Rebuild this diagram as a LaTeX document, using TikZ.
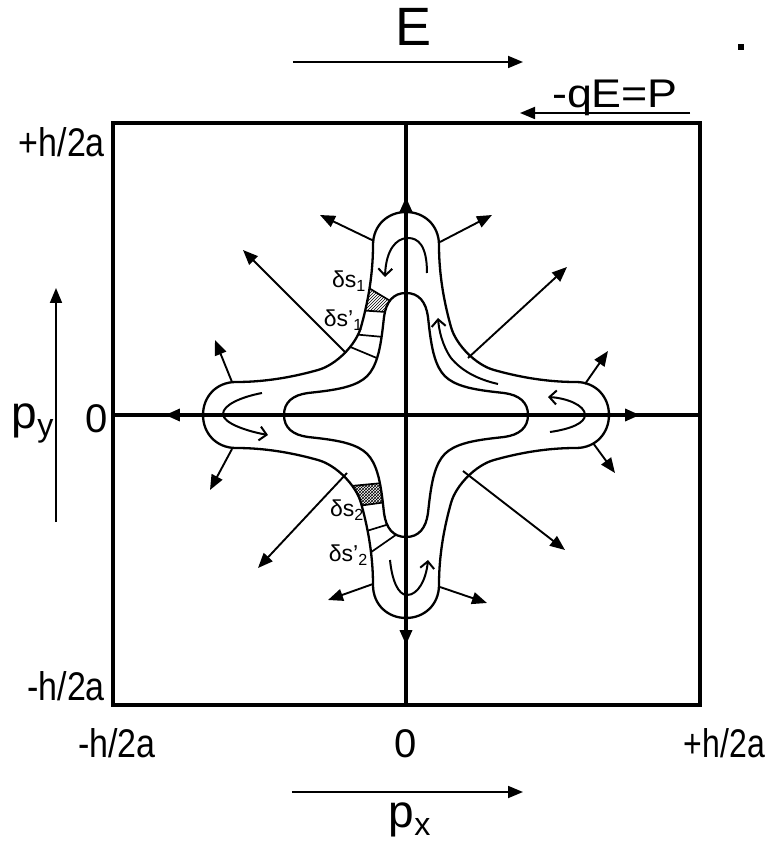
\documentclass[tikz,border=0pt]{standalone}
\usepackage{fontspec}
\setmainfont{Liberation Sans}
\usetikzlibrary{arrows.meta, patterns}

% one quarter of the contours, from the top tip to the left tip
\newcommand{\outerquad}{.. controls (-18,203) and (-33,190) .. (-33,170)
  .. controls (-33,135) and (-40,106) .. (-45,88)
  .. controls (-50,70) and (-70,50) .. (-88,45)
  .. controls (-106,40) and (-135,33) .. (-170,33)
  .. controls (-190,33) and (-203,18) .. (-203,0)}
\newcommand{\innerquad}{.. controls (-13,122) and (-20,113) .. (-22,98)
  .. controls (-24,80) and (-26,60) .. (-33,47)
  .. controls (-36.5,40.5) and (-40.5,36.5) .. (-47,33)
  .. controls (-60,26) and (-80,24) .. (-98,22)
  .. controls (-113,20) and (-122,13) .. (-122,0)}

\begin{document}
\begin{tikzpicture}[x=1pt, y=1pt,
    frame/.style={line width=4pt},
    axis/.style={line width=3.5pt},
    axistip/.style={line width=3.5pt, -{Triangle[length=15pt, width=12pt]}},
    contour/.style={line width=2.3pt},
    normal/.style={line width=1.9pt, -{Triangle[length=15pt, width=12pt]}},
    field/.style={line width=1.8pt, -{Triangle[length=15pt, width=12pt]}},
    flow/.style={line width=2pt, -{Straight Barb[length=7pt, width=14pt]}},
    slice/.style={line width=1.7pt},
    biglbl/.style={font=\fontsize{54}{54}\selectfont, inner sep=0pt},
    plbl/.style={font=\fontsize{46}{46}\selectfont, inner sep=0pt},
    lbl/.style={font=\fontsize{40}{40}\selectfont, inner sep=0pt},
    dlbl/.style={font=\fontsize{23}{23}\selectfont, inner sep=0pt}]

  \useasboundingbox (-406,-428) rectangle (360,415);

  % frame and axes
  \draw[frame] (-293,-290) rectangle (294,292);
  \draw[axis] (-293,0) -- (294,0);
  \draw[axis] (0,-290) -- (0,292);
  \draw[axistip] (0,200) -- (0,218);
  \draw[axistip] (0,-212) -- (0,-230);
  \draw[axistip] (-222,0) -- (-241,0);
  \draw[axistip] (215,0) -- (234,0);

  % strips of the channel
  \begin{scope}[even odd rule]
    \clip (0,203) \outerquad {[rotate=90] \outerquad} {[rotate=180] \outerquad} {[rotate=270] \outerquad} -- cycle
          (0,122) \innerquad {[rotate=90] \innerquad} {[rotate=180] \innerquad} {[rotate=270] \innerquad} -- cycle;
    \draw[slice, pattern=north east lines] (-43.5,130.8) -- (-9,110) -- (-17,102.8) -- (-47,104.8) -- cycle;
    \draw[slice] (-52,80.7) -- (-18,77.6);
    \draw[slice] (-58,69) -- (-24,54.8);
    \draw[slice, pattern=crosshatch] (-55,-71) -- (-16,-67.3) -- (-14,-86.3) -- (-52,-91.5) -- cycle;
    \draw[slice] (-46,-118) -- (-10,-107);
    \draw[slice] (-42.5,-142.4) -- (-4.5,-116);
  \end{scope}

  % contours
  \draw[contour] (0,203) \outerquad {[rotate=90] \outerquad} {[rotate=180] \outerquad} {[rotate=270] \outerquad} -- cycle;
  \draw[contour] (0,122) \innerquad {[rotate=90] \innerquad} {[rotate=180] \innerquad} {[rotate=270] \innerquad} -- cycle;

  % normals
  \draw[normal] (-32,174) -- (-86,200);
  \draw[normal] (34,173) -- (86,200);
  \draw[normal] (-60,62) -- (-163,165);
  \draw[normal] (62,57) -- (161,148);
  \draw[normal] (-174,33) -- (-191,75);
  \draw[normal] (-174,-34) -- (-196,-75);
  \draw[normal] (179,31) -- (202,64);
  \draw[normal] (187,-28) -- (209,-58);
  \draw[normal] (-59,-58) -- (-148,-153);
  \draw[normal] (57,-56) -- (159,-135);
  \draw[normal] (-33,-169) -- (-78,-185);
  \draw[normal] (34,-172) -- (81,-188);

  % flow along the channel
  \draw[flow] (21,142) .. controls (21,170) and (12,177) .. (2,177) .. controls (-10,177) and (-20,165) .. (-21,138);
  \draw[flow] (-144,22) .. controls (-165,18) and (-183,10) .. (-183,1) .. controls (-183,-8) and (-160,-16) .. (-138,-20);
  \draw[flow] (-16,-145) .. controls (-14,-165) and (-8,-180) .. (1,-180) .. controls (12,-180) and (20,-165) .. (22,-145);
  \draw[flow] (144,-17) .. controls (165,-14) and (179,-8) .. (179,0) .. controls (179,10) and (160,17) .. (142,18);
  \draw[flow] (92,31) .. controls (70,36) and (55,45) .. (45,57) .. controls (36,70) and (33,85) .. (32,97);

  % strip labels
  \node[dlbl, anchor=east] (ds1) at (-40,134) {δs\textsubscript{1}};
  \node[dlbl, anchor=east] (dsp1) at (-43,95) {δs’\textsubscript{1}};
  \node[dlbl, anchor=east] (ds2) at (-42,-95) {δs\textsubscript{2}};
  \node[dlbl, anchor=east] (dsp2) at (-38,-140) {δs’\textsubscript{2}};

  % field and force
  \coordinate (Efrom) at (-113,353);
  \coordinate (Eto) at (117,353);
  \draw[field] (Efrom) -- (Eto);
  \node[biglbl, anchor=base] (Elbl) at (8,369) {E};
  \fill (332,365) rectangle (338,371);
  \coordinate (Ffrom) at (284,302);
  \coordinate (Fto) at (114,302);
  \draw[field] (Ffrom) -- (Fto);
  \node[lbl, anchor=base, xscale=1.12] (force) at (209,307) {-qE=P};

  % axis labels
  \node[lbl, anchor=base east, xscale=0.85] (ytop) at (-301,258) {+h/2a};
  \node[lbl, anchor=base east, xscale=0.85] (ybot) at (-301,-285) {-h/2a};
  \node[lbl, anchor=base] (yzero) at (-309,-17) {0};
  \node[lbl, anchor=base, xscale=0.85] (xleft) at (-289,-342) {-h/2a};
  \node[lbl, anchor=base] (xzero) at (0,-342) {0};
  \node[lbl, anchor=base east, xscale=0.8] (xright) at (359,-342) {+h/2a};

  \coordinate (pxfrom) at (-114,-377);
  \coordinate (pxto) at (117,-377);
  \draw[field] (pxfrom) -- (pxto);
  \node[plbl, anchor=base] (px) at (4,-412) {p\textsubscript{x}};
  \coordinate (pyfrom) at (-350,-107);
  \coordinate (pyto) at (-350,127);
  \draw[field] (pyfrom) -- (pyto);
  \node[plbl, anchor=base] (py) at (-373,-13) {p\textsubscript{y}};
\end{tikzpicture}
\end{document}
